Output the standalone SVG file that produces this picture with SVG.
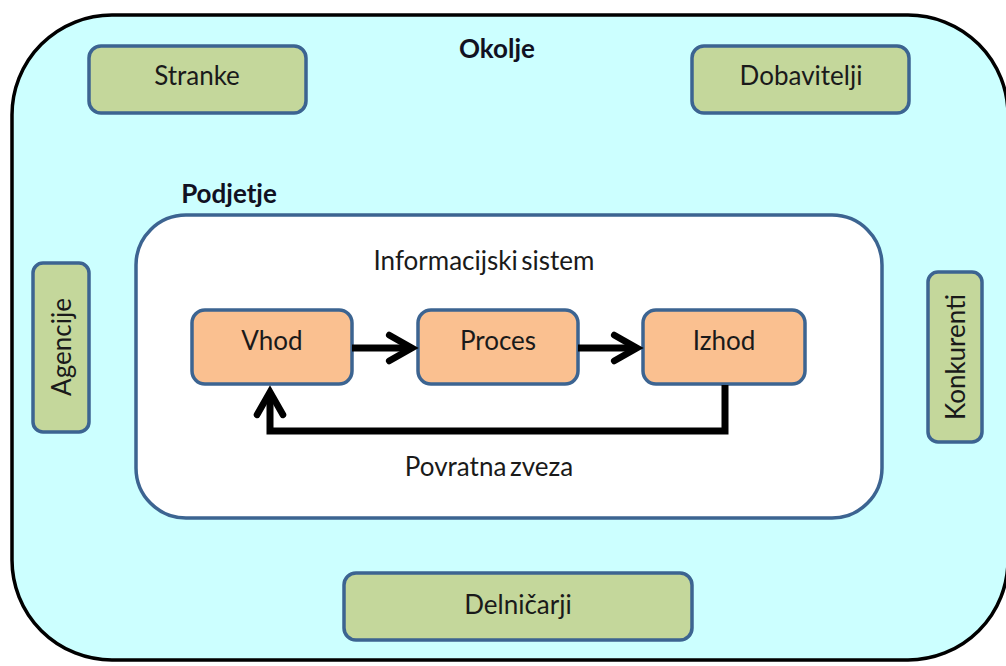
<svg xmlns="http://www.w3.org/2000/svg" width="1006" height="666" viewBox="0 0 1006 666">
<defs>
<style>
.lbl{font-family:Lato,"Liberation Sans",sans-serif;font-size:26px;fill:#1a1a1a;text-anchor:middle}
.bold{font-family:Lato,"Liberation Sans",sans-serif;font-size:26px;font-weight:bold;fill:#111122;text-anchor:middle}
.ext{fill:#c4d79b;stroke:#3c6491;stroke-width:3.5}
.proc{fill:#fac090;stroke:#3c6491;stroke-width:3.5}
.conn{fill:none;stroke:#000;stroke-width:7}
</style>
<marker id="chev" viewBox="0 0 10 10" refX="8" refY="5" markerWidth="5" markerHeight="5" orient="auto" markerUnits="strokeWidth">
<path d="M1.5,1.3 L8,5 L1.5,8.7" fill="none" stroke="#000" stroke-width="1.9" stroke-linecap="round" stroke-linejoin="miter"/>
</marker>
</defs>
<rect width="1006" height="666" fill="#fff"/>
<g id="okolje">
<rect x="12" y="15" width="996" height="645" rx="100" ry="100" fill="#ccffff" stroke="#000" stroke-width="3.5"/>
<text class="bold" x="497" y="58">Okolje</text>
</g>
<g id="podjetje">
<text class="bold" x="229" y="203">Podjetje</text>
<rect x="136" y="215" width="746" height="303" rx="50" ry="50" fill="#fff" stroke="#3c6491" stroke-width="3.5"/>
<text class="lbl" x="484" y="270" word-spacing="-3">Informacijski sistem</text>
</g>
<g id="stranke">
<rect class="ext" x="89" y="46" width="217" height="67" rx="12"/>
<text class="lbl" x="197" y="85">Stranke</text>
</g>
<g id="dobavitelji">
<rect class="ext" x="692" y="46" width="217" height="67" rx="12"/>
<text class="lbl" x="801" y="85">Dobavitelji</text>
</g>
<g id="agencije">
<rect class="ext" x="33" y="263" width="56" height="169" rx="10"/>
<text class="lbl" transform="translate(71,347) rotate(-90)">Agencije</text>
</g>
<g id="konkurenti">
<rect class="ext" x="928" y="272" width="54" height="170" rx="10"/>
<text class="lbl" transform="translate(965,357) rotate(-90)">Konkurenti</text>
</g>
<g id="delnicarji">
<rect class="ext" x="344" y="573" width="348" height="67" rx="12"/>
<text class="lbl" x="518" y="614">Delničarji</text>
</g>
<g id="vhod">
<rect class="proc" x="192" y="310" width="160" height="74" rx="13"/>
<text class="lbl" x="272" y="350">Vhod</text>
</g>
<g id="proces">
<rect class="proc" x="418" y="310" width="160" height="74" rx="13"/>
<text class="lbl" x="498" y="350">Proces</text>
</g>
<g id="izhod">
<rect class="proc" x="643" y="310" width="162" height="74" rx="13"/>
<text class="lbl" x="724" y="350">Izhod</text>
</g>
<g id="connectors">
<path class="conn" d="M352,348 H412" marker-end="url(#chev)"/>
<path class="conn" d="M578,348 H637" marker-end="url(#chev)"/>
<path class="conn" d="M725,385 V431 H270 V392" marker-end="url(#chev)"/>
<text class="lbl" x="489" y="476" font-size="24" word-spacing="-3">Povratna zveza</text>
</g>
</svg>
